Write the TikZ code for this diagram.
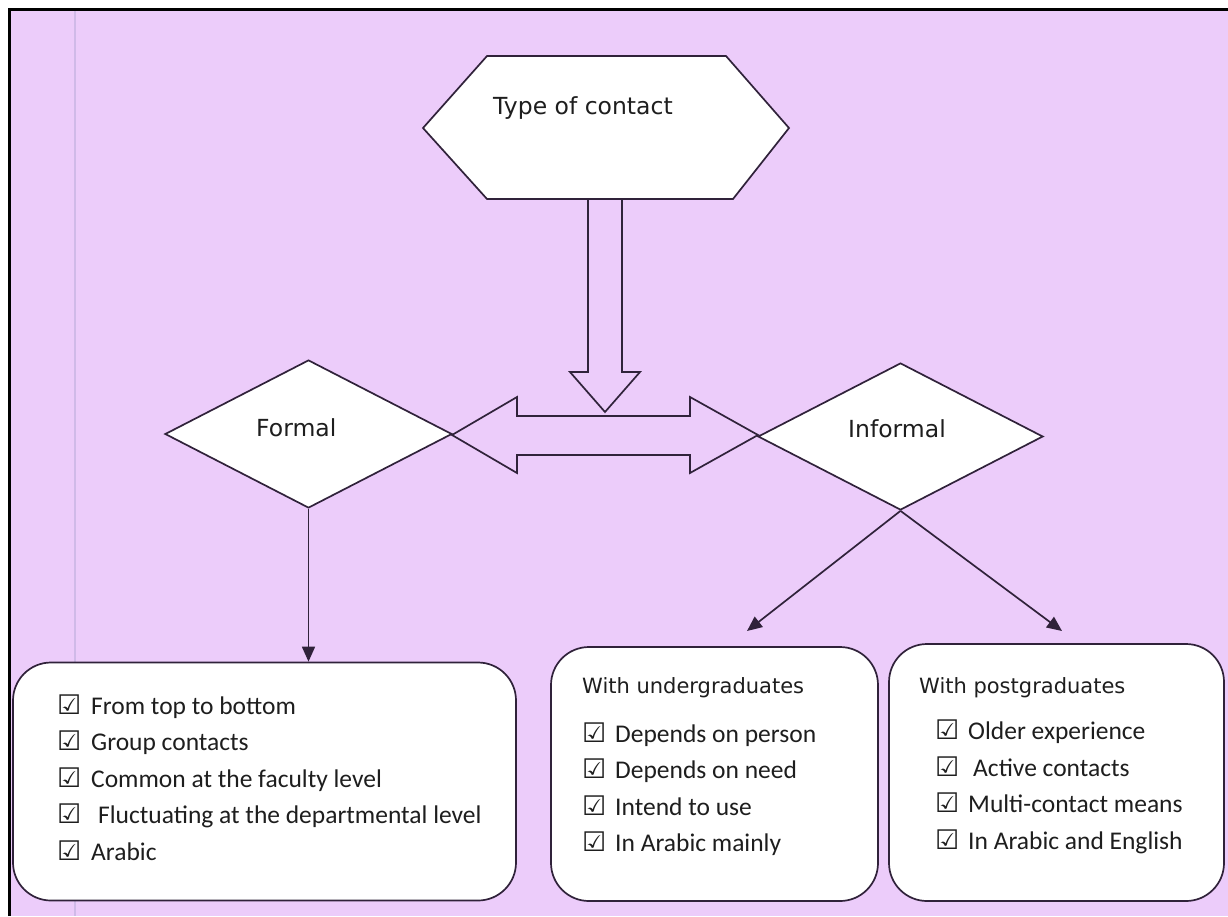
\documentclass[tikz,border=0pt]{standalone}
\usepackage{fontspec}
\setmainfont{Carlito}
\newfontfamily\dv{DejaVu Sans}
\usetikzlibrary{arrows.meta,shapes.geometric}
\definecolor{bg}{RGB}{236,204,250}
\definecolor{ln}{RGB}{48,34,58}
\definecolor{txt}{RGB}{30,30,30}
\definecolor{faint}{RGB}{208,186,232}
\begin{document}
\begin{tikzpicture}[x=1pt,y=-1pt,
  outl/.style={draw=ln, line width=1.7pt, line join=miter},
  dmd/.style={diamond, draw=ln, fill=white, line width=1.7pt, inner sep=0pt},
  roundbox/.style={rectangle, draw=ln, fill=white, line width=1.7pt, rounded corners=38pt, inner sep=0pt},
  thin/.style={draw=ln, line width=1.7pt, -{Triangle[length=15pt,width=13pt]}},
  title/.style={anchor=base west, inner sep=0pt, font=\dv\fontsize{23.5}{28}\selectfont, text=txt},
  head/.style={anchor=base west, inner sep=0pt, font=\dv\fontsize{21}{25}\selectfont, text=txt},
  item/.style={anchor=base west, inner sep=0pt, font=\fontsize{25.5}{30}\selectfont, text=txt},
  chk/.style={anchor=base west, inner sep=0pt, font=\dv\bfseries\fontsize{27}{30}\selectfont, text=txt}]
\useasboundingbox (0,0) rectangle (1228,916);
\fill[white] (0,0) rectangle (1228,916);
\fill[bg] (9,9) rectangle (1228,916);
\draw[faint, line width=2.2pt] (75,11) -- (75,916);
\draw[black, line width=3pt] (9.5,916) -- (9.5,9.5) -- (1228,9.5);

% hexagon
\draw[outl, fill=white] (423,128) -- (487,56) -- (726,56) -- (789,128) -- (733,199) -- (487,199) -- cycle;
\node[title] (ttype) at (493,114) {Type of contact};

% block arrows
\draw[outl] (588,199) -- (588,372) -- (570,372) -- (605,412) -- (640,372) -- (622,372) -- (622,199);
\draw[outl] (452,435) -- (517,397) -- (517,416) -- (690,416) -- (690,397) -- (758,435)
  -- (690,473) -- (690,455) -- (517,455) -- (517,473) -- cycle;

% diamonds
\node[dmd, minimum width=287pt, minimum height=148pt] (formal) at (308.5,434) {};
\node[dmd, minimum width=285pt, minimum height=147pt] (informal) at (900.5,436.5) {};
\node[title] (tformal) at (256,436) {Formal};
\node[title] (tinformal) at (848,437) {Informal};

% boxes
\node[roundbox, minimum width=503pt, minimum height=238pt] (box1) at (264.5,781.5) {};
\node[roundbox, minimum width=327pt, minimum height=254pt] (box2) at (714.5,774) {};
\node[roundbox, minimum width=335pt, minimum height=257pt] (box3) at (1056.5,772.5) {};

\coordinate (e2) at (747,631);
\coordinate (e3) at (1062,631);
\draw[thin] (formal.south) -- (box1.north -| formal.south);
\draw[thin] (informal.south) -- (e2);
\draw[thin] (informal.south) -- (e3);

% box 1 items
\node[chk] (c11) at (57,714) {☑};   \node[item] (t11) at (91,714) {From top to bottom};
\node[chk] (c12) at (57,750.5) {☑}; \node[item] (t12) at (91,750.5) {Group contacts};
\node[chk] (c13) at (57,787) {☑};   \node[item] (t13) at (91,787) {Common at the faculty level};
\node[chk] (c14) at (57,823.5) {☑}; \node[item] (t14) at (98,823.5) {Fluctuating at the departmental level};
\node[chk] (c15) at (57,860) {☑};   \node[item] (t15) at (91,860) {Arabic};

% box 2
\node[head] (h2) at (582,693) {With undergraduates};
\node[chk] (c21) at (582,742) {☑}; \node[item] (t21) at (615,742) {Depends on person};
\node[chk] (c22) at (582,778) {☑}; \node[item] (t22) at (615,778) {Depends on need};
\node[chk] (c23) at (582,815) {☑}; \node[item] (t23) at (615,815) {Intend to use};
\node[chk] (c24) at (582,851) {☑}; \node[item] (t24) at (615,851) {In Arabic mainly};

% box 3
\node[head] (h3) at (919,693) {With postgraduates};
\node[chk] (c31) at (935,739) {☑}; \node[item] (t31) at (968,739) {Older experience};
\node[chk] (c32) at (935,776) {☑}; \node[item] (t32) at (973,776) {Active contacts};
\node[chk] (c33) at (935,812) {☑}; \node[item] (t33) at (968,812) {Multi-contact means};
\node[chk] (c34) at (935,849) {☑}; \node[item] (t34) at (968,849) {In Arabic and English};
\end{tikzpicture}
\end{document}
